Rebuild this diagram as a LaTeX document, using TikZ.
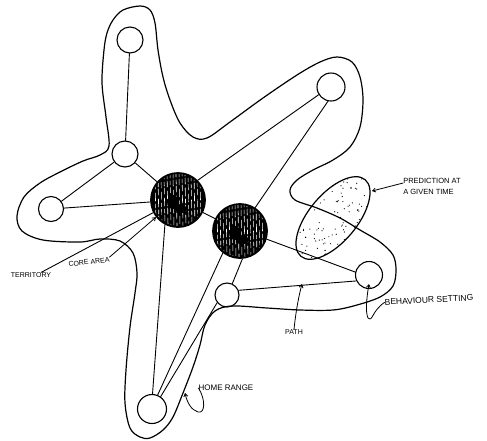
\documentclass[tikz,border=0pt]{standalone}
\usepackage{fontspec}
\newfontfamily\handfont{Liberation Sans}
\usetikzlibrary{arrows.meta,calc}
\begin{document}
\begin{tikzpicture}[x=1pt,y=-1pt, line cap=round, line join=round,
  spot/.style={circle, draw, line width=1.1pt, inner sep=0pt, minimum size=#1},
  core/.style={circle, draw, line width=1.8pt, fill=black, inner sep=0pt, minimum size=54pt,
    path picture={
      \foreach \k [count=\j] in {-23,-20,...,24} {
        \pgfmathsetmacro\ph{mod(\j*7,13)}
        \pgfmathsetmacro\wd{0.45+0.1*mod(\j,3)}
        \draw[white, line width=\wd pt, dash pattern=on 8pt off 3pt on 4pt off 2pt on 6pt off 4pt, dash phase=\ph pt]
          ($(path picture bounding box.north)+(\k,0)$) -- ($(path picture bounding box.south)+(\k+1,0)$);
      }
      \fill[black] ($(path picture bounding box.center)+(-5,2)$) ellipse [x radius=6, y radius=7];
      \fill[black] ($(path picture bounding box.center)+(3,9)$) ellipse [x radius=6, y radius=4];
    }},
  link/.style={line width=0.9pt},
  rim/.style={line width=1.2pt},
  lbl/.style={font=\handfont\fontsize{#1}{#1}\selectfont, inner sep=0pt},
  ptr/.style={line width=0.8pt, -{Straight Barb[length=3pt,width=4pt]}}
]
\useasboundingbox (0,0) rectangle (487,440);

% prediction area (stippled)
\begin{scope}
  \clip[rotate around={50:(333,218)}] (333,218) ellipse [x radius=50, y radius=24];
  \pgfmathsetseed{11}
  \foreach \i in {1,...,160} {
    \pgfmathsetmacro\rx{333+40*rand}
    \pgfmathsetmacro\ry{218+42*rand}
    \fill (\rx,\ry) circle (0.6);
  }
\end{scope}
\draw[rim, rotate around={50:(333,218)}] (333,218) ellipse [x radius=50, y radius=24];

% territory outline
\draw[rim] plot[smooth cycle, tension=0.55] coordinates {
  (113,20) (123,10) (140,6) (150,10) (155,23) (158,50) (163,77) (170,100) (180,123)
  (193,137) (207,138) (230,122) (263,98) (297,75) (320,62) (337,57) (352,62) (360,77)
  (363,100) (360,127) (350,147) (333,160) (313,170) (297,180) (290,190) (295,200)
  (317,208) (340,218) (360,230) (380,242) (393,255) (396,270) (393,286) (380,297)
  (357,305) (333,310) (300,310) (267,308) (232,306) (215,311) (205,325) (200,345)
  (193,367) (183,393) (173,417) (163,430) (150,438) (140,437) (130,428) (125,403)
  (126,370) (130,327) (135,293) (137,273) (133,253) (120,241) (100,239) (80,242)
  (43,240) (22,231) (17,216) (24,197) (40,183) (60,172) (83,161) (100,155) (109,146)
  (106,117) (102,83) (104,50) (107,33)
};

% nodes
\node[spot=26pt] (A) at (130,40) {};
\node[spot=28pt] (B) at (331,87) {};
\node[spot=26pt] (C) at (125,154) {};
\node[spot=25pt] (D) at (51,209) {};
\node[core] (E) at (178,200) {};
\node[core] (F) at (240,231) {};
\node[spot=24pt] (G) at (227,295) {};
\node[spot=27pt] (H) at (369,275) {};
\node[spot=29pt] (I) at (152,409) {};

% connectors
\draw[link] (A) -- (C);
\draw[link] (C) -- (E);
\draw[link] (C) -- (D);
\draw[link] (D) -- (E);
\draw[link] (E.45) -- (B.212);
\draw[link] (B.258) -- (F.57);
\draw[link] (E) -- (F);
\draw[link] (E.242) -- (I.88);
\draw[link] (F.232) -- (I.68);
\draw[link] (G.218) -- (I.55);
\draw[link] (F.275) -- (G.65);
\draw[link] (F.343) -- (H.168);
\draw[link] (G.22) -- (H.205);

% labels
\node[lbl=7] (terr) at (31,275) {TERRITORY};
\node[lbl=7, rotate=6] (corel) at (89,262) {CORE AREA};
\node[inner sep=0pt, align=left, font=\handfont\fontsize{7.5}{11}\selectfont] (pred) at (432,186) {PREDICTION AT\\A GIVEN TIME};
\node[lbl=8.5, rotate=3] (beh) at (429,300) {BEHAVIOUR SETTING};
\node[lbl=7] (pathl) at (294,332) {PATH};
\node[lbl=8] (home) at (226,388) {HOME RANGE};

% pointers
\coordinate (predpt) at (372,191);
\coordinate (pathpt) at (302,284);
\coordinate (homept) at (185,393);
\coordinate (behpt) at (369,284);
\draw[link] ([xshift=-10pt]terr.north east) -- (E.207);
\draw[ptr] (corel.north east) -- (E.218);
\draw[ptr] ([yshift=3pt]pred.west) -- (predpt);
\draw[ptr] (pathl.north) .. controls (296,310) and (299,295) .. (pathpt);
\draw[ptr] (home.west) .. controls (206,400) and (205,414) .. (198,412) .. controls (191,410) and (187,402) .. (homept);
\draw[ptr] (beh.west) .. controls (371,312) and (373,322) .. (368,318) .. controls (365,312) and (367,295) .. (behpt);
\end{tikzpicture}
\end{document}
